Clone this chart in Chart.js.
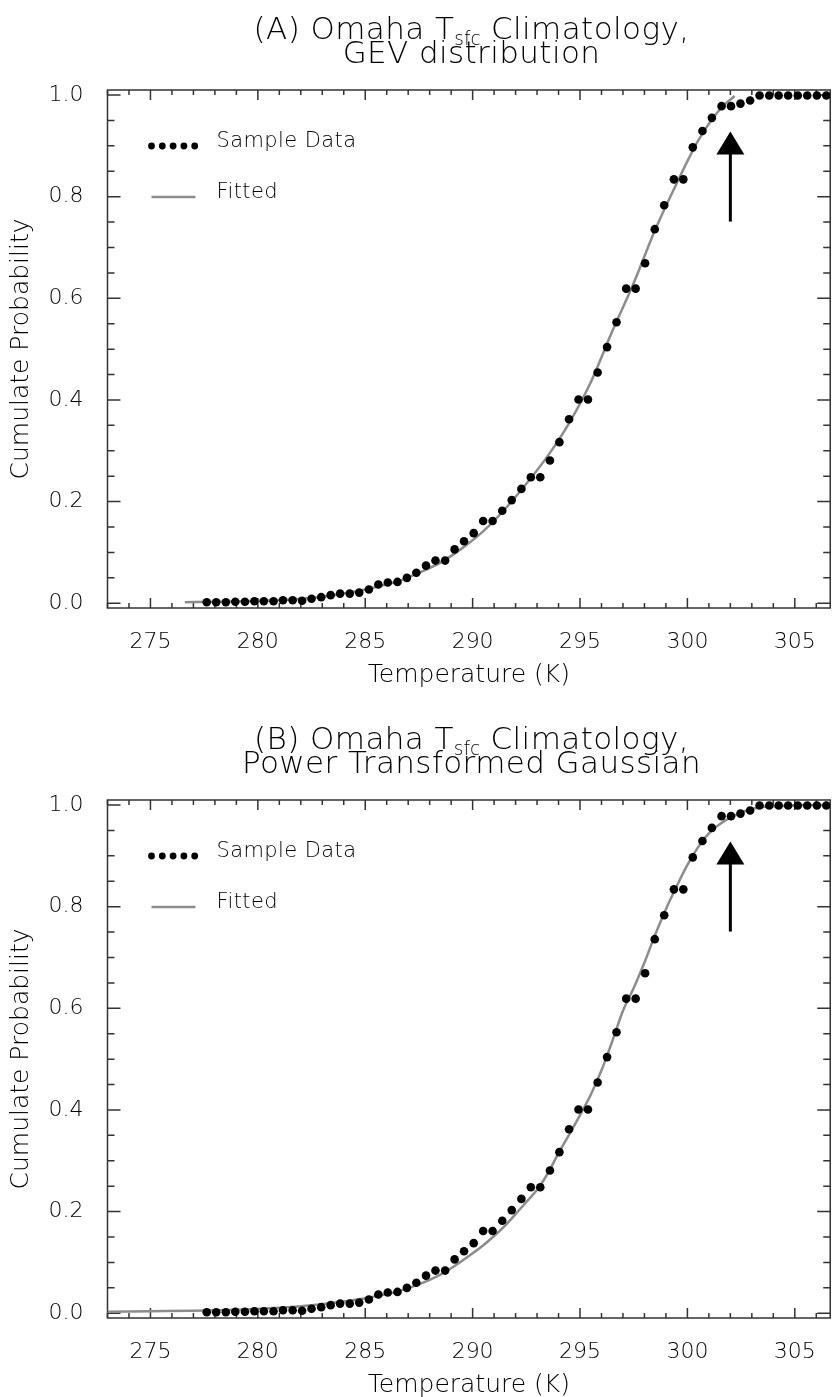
<!DOCTYPE html>
<html>
<head>
<meta charset="utf-8">
<script src="https://cdn.jsdelivr.net/npm/chart.js@4.4.0/dist/chart.umd.min.js"></script>
<style>
  body { margin: 0; background: #fff; width: 837px; height: 1397px; overflow: hidden; }
  .panel { position: absolute; left: 0; width: 837px; height: 688px; }
  .ttl { position: absolute; left: 107px; width: 729px; text-align: center; z-index: 2;
         font-family: 'DejaVu Sans', sans-serif; font-weight: 200; font-size: 31px; line-height: 30px;
         letter-spacing: 0.4px; color: #000; }
  .ttl sub { font-size: 0.6em; vertical-align: -0.3em; line-height: 0; letter-spacing: 0; }
</style>
</head>
<body>

<div class="panel" style="top:0">
  <div class="ttl" style="top:13px">(A) Omaha T<sub>sfc</sub> Climatology,</div>
  <div class="ttl" style="top:37px">GEV distribution</div>
  <canvas id="chartA"></canvas>
</div>

<div class="panel" style="top:709.5px">
  <div class="ttl" style="top:13px">(B) Omaha T<sub>sfc</sub> Climatology,</div>
  <div class="ttl" style="top:37px">Power Transformed Gaussian</div>
  <canvas id="chartB"></canvas>
</div>

<script>
// Empirical CDF of surface temperature (K) and cumulative probability
const sampleTemps = [277.62, 278.06, 278.51, 278.95, 279.40, 279.84, 280.28, 280.73, 281.17, 281.62,
                     282.06, 282.50, 282.95, 283.39, 283.83, 284.28, 284.72, 285.17, 285.61, 286.05,
                     286.50, 286.94, 287.38, 287.83, 288.27, 288.72, 289.16, 289.60, 290.05, 290.49,
                     290.93, 291.38, 291.82, 292.27, 292.71, 293.15, 293.60, 294.04, 294.49, 294.93,
                     295.37, 295.82, 296.26, 296.70, 297.15, 297.59, 298.03, 298.48, 298.92, 299.37,
                     299.81, 300.25, 300.70, 301.14, 301.59, 302.03, 302.47, 302.92, 303.36, 303.81,
                     304.25, 304.69, 305.14, 305.58, 306.03, 306.47];
const sampleProbs = [0.002, 0.002, 0.002, 0.003, 0.003, 0.004, 0.004, 0.004, 0.006, 0.006,
                     0.005, 0.009, 0.012, 0.016, 0.019, 0.019, 0.021, 0.027, 0.037, 0.041,
                     0.042, 0.050, 0.060, 0.074, 0.084, 0.084, 0.106, 0.122, 0.138, 0.162,
                     0.162, 0.182, 0.203, 0.225, 0.248, 0.248, 0.281, 0.317, 0.362, 0.401,
                     0.401, 0.454, 0.504, 0.553, 0.619, 0.619, 0.669, 0.736, 0.783, 0.834,
                     0.834, 0.897, 0.929, 0.955, 0.978, 0.978, 0.983, 0.989, 0.999, 0.999,
                     0.999, 0.999, 0.999, 0.999, 0.999, 0.999];

// Fitted GEV curve
const gevTemps = [276.6, 278, 280, 282, 283.5, 285, 286.5, 287.5, 288.5, 289.5, 290.5, 291.5,
                  292.5, 293.5, 294.5, 295.5, 296.5, 297.5, 298.5, 299.5, 300.5, 301.2, 301.7, 302.2];
const gevProbs = [0.002, 0.003, 0.005, 0.009, 0.016, 0.027, 0.043, 0.060, 0.080, 0.108, 0.142, 0.185,
                  0.235, 0.290, 0.355, 0.435, 0.535, 0.630, 0.735, 0.826, 0.910, 0.955, 0.980, 0.998];

// Fitted power transformed Gaussian curve
const ptgTemps = [273, 275, 277, 279, 281, 282.5, 284, 285.2, 286.5, 287.5, 288.5, 289.3, 290, 290.5,
                  291, 291.5, 292, 292.5, 293, 293.5, 294, 294.5, 295, 295.5, 296, 296.5, 297, 297.5,
                  298, 298.5, 299, 299.5, 300, 300.5, 301, 301.5, 302, 302.5, 303, 303.5, 304.3, 305.5, 306.7];
const ptgProbs = [0.003, 0.004, 0.005, 0.007, 0.011, 0.016, 0.023, 0.031, 0.043, 0.057, 0.076, 0.097,
                  0.118, 0.134, 0.152, 0.172, 0.195, 0.219, 0.243, 0.275, 0.315, 0.352, 0.390, 0.430,
                  0.478, 0.535, 0.595, 0.640, 0.690, 0.745, 0.795, 0.840, 0.882, 0.917, 0.944, 0.962,
                  0.975, 0.985, 0.992, 0.996, 0.998, 1.0, 1.0];

const xTicks = [275, 280, 285, 290, 295, 300, 305];
const yTicks = [0, 0.2, 0.4, 0.6, 0.8, 1.0];

// Arrow marking the upper tail: temperature, tail and tip probability
const arrowT = 302.0;
const arrowFrom = 0.751;
const arrowTo = 0.928;

const FONT = "'DejaVu Sans', sans-serif";
Chart.defaults.font.family = FONT;
Chart.defaults.color = '#000';

const toPoints = (xs, ys) => xs.map((x, i) => ({ x: x, y: ys[i] }));

// Box frame with inward ticks on all four sides
const frameTicks = {
    id: 'frameTicks',
    beforeDatasetsDraw(chart) {
        const { ctx, chartArea: a, scales: { x, y } } = chart;
        ctx.save();
        ctx.strokeStyle = '#333';
        ctx.lineWidth = 1.5;
        ctx.strokeRect(a.left, a.top, a.right - a.left, a.bottom - a.top);
        ctx.beginPath();
        for (let t = Math.ceil(x.min); t <= x.max; t++) {
            const px = x.getPixelForValue(t);
            const len = t % 5 === 0 ? 10 : 5;
            ctx.moveTo(px, a.bottom); ctx.lineTo(px, a.bottom - len);
            ctx.moveTo(px, a.top); ctx.lineTo(px, a.top + len);
        }
        for (let k = 0; k <= 20; k++) {
            const py = y.getPixelForValue(k * 0.05);
            const len = k % 4 === 0 ? 13 : 7;
            ctx.moveTo(a.left, py); ctx.lineTo(a.left + len, py);
            ctx.moveTo(a.right, py); ctx.lineTo(a.right - len, py);
        }
        ctx.stroke();
        ctx.restore();
    }
};

const tailArrow = {
    id: 'tailArrow',
    afterDatasetsDraw(chart) {
        const { ctx, scales: { x, y } } = chart;
        const px = x.getPixelForValue(arrowT);
        const tip = y.getPixelForValue(arrowTo);
        const tail = y.getPixelForValue(arrowFrom);
        ctx.save();
        ctx.strokeStyle = '#000';
        ctx.fillStyle = '#000';
        ctx.lineWidth = 3;
        ctx.beginPath();
        ctx.moveTo(px, tail);
        ctx.lineTo(px, tip + 20);
        ctx.stroke();
        ctx.beginPath();
        ctx.moveTo(px, tip);
        ctx.lineTo(px - 14, tip + 23);
        ctx.lineTo(px + 14, tip + 23);
        ctx.closePath();
        ctx.fill();
        ctx.restore();
    }
};

const sideLegend = {
    id: 'sideLegend',
    afterDraw(chart) {
        const { ctx, chartArea: a } = chart;
        ctx.save();
        ctx.fillStyle = '#000';
        for (let i = 0; i < 5; i++) {
            ctx.beginPath();
            ctx.arc(a.left + 44 + i * 10.8, a.top + 56, 3.4, 0, Math.PI * 2);
            ctx.fill();
        }
        ctx.strokeStyle = '#8c8c8c';
        ctx.lineWidth = 2.5;
        ctx.beginPath();
        ctx.moveTo(a.left + 44, a.top + 107);
        ctx.lineTo(a.left + 88, a.top + 107);
        ctx.stroke();
        ctx.font = '200 21px ' + FONT;
        ctx.letterSpacing = '0.4px';
        ctx.textBaseline = 'alphabetic';
        ctx.fillText('Sample Data', a.left + 109, a.top + 57);
        ctx.fillText('Fitted', a.left + 109, a.top + 108);
        ctx.restore();
    }
};

function makeChart(id, fitTemps, fitProbs) {
    return new Chart(document.getElementById(id), {
        type: 'scatter',
        data: {
            datasets: [
                {
                    label: 'Sample Data',
                    data: toPoints(sampleTemps, sampleProbs),
                    backgroundColor: '#000',
                    borderColor: '#000',
                    pointRadius: 4.3,
                    pointBorderWidth: 0
                },
                {
                    label: 'Fitted',
                    data: toPoints(fitTemps, fitProbs),
                    showLine: true,
                    borderColor: '#8c8c8c',
                    borderWidth: 2.5,
                    pointRadius: 0,
                    cubicInterpolationMode: 'monotone'
                }
            ]
        },
        options: {
            responsive: true,
            maintainAspectRatio: false,
            animation: false,
            layout: { padding: { top: 90, right: 1, left: 0, bottom: 0 } },
            plugins: { legend: { display: false }, tooltip: { enabled: false } },
            scales: {
                x: {
                    type: 'linear',
                    min: 273,
                    max: 306.65,
                    grid: { display: false, drawTicks: false },
                    border: { display: false },
                    afterBuildTicks: s => { s.ticks = xTicks.map(v => ({ value: v })); },
                    afterFit: s => { s.height = 80; },
                    ticks: { padding: 21, font: { size: 22, weight: 200 }, callback: v => String(v) },
                    title: { display: true, text: 'Temperature (K)', font: { size: 25, weight: 200, lineHeight: 1.0 },
                             padding: { top: 0, bottom: 0 } }
                },
                y: {
                    min: -0.0093,
                    max: 1.0098,
                    grid: { display: false, drawTicks: false },
                    border: { display: false },
                    afterBuildTicks: s => { s.ticks = yTicks.map(v => ({ value: v })); },
                    afterFit: s => { s.width = 107.5; },
                    ticks: { padding: 24, font: { size: 22, weight: 200 }, callback: v => v.toFixed(1) },
                    title: { display: true, text: 'Cumulate Probability', font: { size: 25, weight: 200, lineHeight: 1.0 },
                             padding: { top: 9, bottom: 0 } }
                }
            }
        },
        plugins: [frameTicks, tailArrow, sideLegend]
    });
}

makeChart('chartA', gevTemps, gevProbs);
makeChart('chartB', ptgTemps, ptgProbs);
</script>
</body>
</html>
